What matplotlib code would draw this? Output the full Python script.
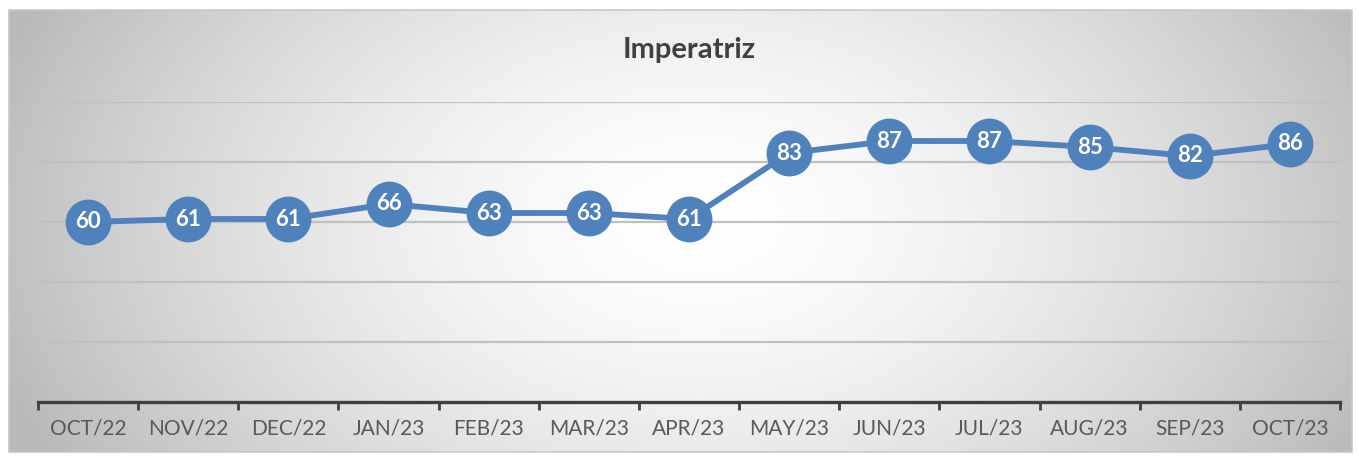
import numpy as np
import matplotlib
matplotlib.use("Agg")
import matplotlib.pyplot as plt
from matplotlib.patches import Rectangle

categories = ["OCT/22", "NOV/22", "DEC/22", "JAN/23", "FEB/23", "MAR/23", "APR/23",
              "MAY/23", "JUN/23", "JUL/23", "AUG/23", "SEP/23", "OCT/23"]
values = [60, 61, 61, 66, 63, 63, 61, 83, 87, 87, 85, 82, 86]
title = "Imperatriz"

W, H = 1359, 459
fig = plt.figure(figsize=(W / 100, H / 100), dpi=100)
fig.patch.set_facecolor("white")

# background with radial gradient
bg = fig.add_axes([0, 0, 1, 1], zorder=0)
bg.set_xlim(0, W)
bg.set_ylim(H, 0)
bg.axis("off")
x0, x1, y0, y1 = 9, 1352, 10, 452
xx, yy = np.meshgrid(np.linspace(x0, x1, 600), np.linspace(y0, y1, 200))
cx, cy = 700, 220
t = np.sqrt(((xx - cx) / 740) ** 2 + ((yy - cy) / 480) ** 2)
t = np.clip(t, 0, 1)
v = 1.0 - 0.27 * t ** 1.6
img = np.dstack([v, v, v])
bg.imshow(img, extent=[x0, x1, y1, y0], aspect="auto", interpolation="bilinear")
bg.add_patch(Rectangle((x0, y0), x1 - x0, y1 - y0, fill=False, ec="#c8c8c8", lw=1.2))

fam = ["Lato", "DejaVu Sans"]

# main plot
left, right = 38 / W, 1340 / W
bottom, top = (H - 402) / H, (H - 102) / H
ax = fig.add_axes([left, bottom, right - left, top - bottom], zorder=1)
ax.patch.set_alpha(0)
x = np.arange(len(categories))
ax.set_xlim(-0.5, len(categories) - 0.5)
ax.set_ylim(0, 100)

for gy in [20, 40, 60, 80, 100]:
    ax.axhline(gy, color="#c0c0c0", lw=1.6, zorder=1)

for s in ["left", "right", "top"]:
    ax.spines[s].set_visible(False)
ax.spines["bottom"].set_color("#404040")
ax.spines["bottom"].set_linewidth(2.4)
ax.set_yticks([])

ax.set_xticks(np.arange(-0.5, len(categories)), minor=False)
ax.set_xticklabels([])
ax.tick_params(axis="x", which="major", length=6, width=2, color="#404040", direction="out")
ax.set_xticks(x, minor=True)
ax.set_xticklabels(categories, minor=True, fontsize=15, color="#595959", family=fam)
ax.tick_params(axis="x", which="minor", length=0, pad=12)

ax.plot(x, values, color="#4f81bd", lw=4.2, zorder=3, clip_on=False,
        marker="o", markersize=32, markerfacecolor="#4f81bd", markeredgecolor="#4f81bd")
for xi, v in zip(x, values):
    ax.text(xi, v, str(v), ha="center", va="center", color="white", fontsize=16,
            fontweight="bold", family=fam, zorder=4)

fig.text(689 / W, 1 - 50 / H, title, ha="center", va="center", fontsize=21,
         fontweight="bold", color="#404040", family=fam)

fig.savefig("out.png", dpi=100)
